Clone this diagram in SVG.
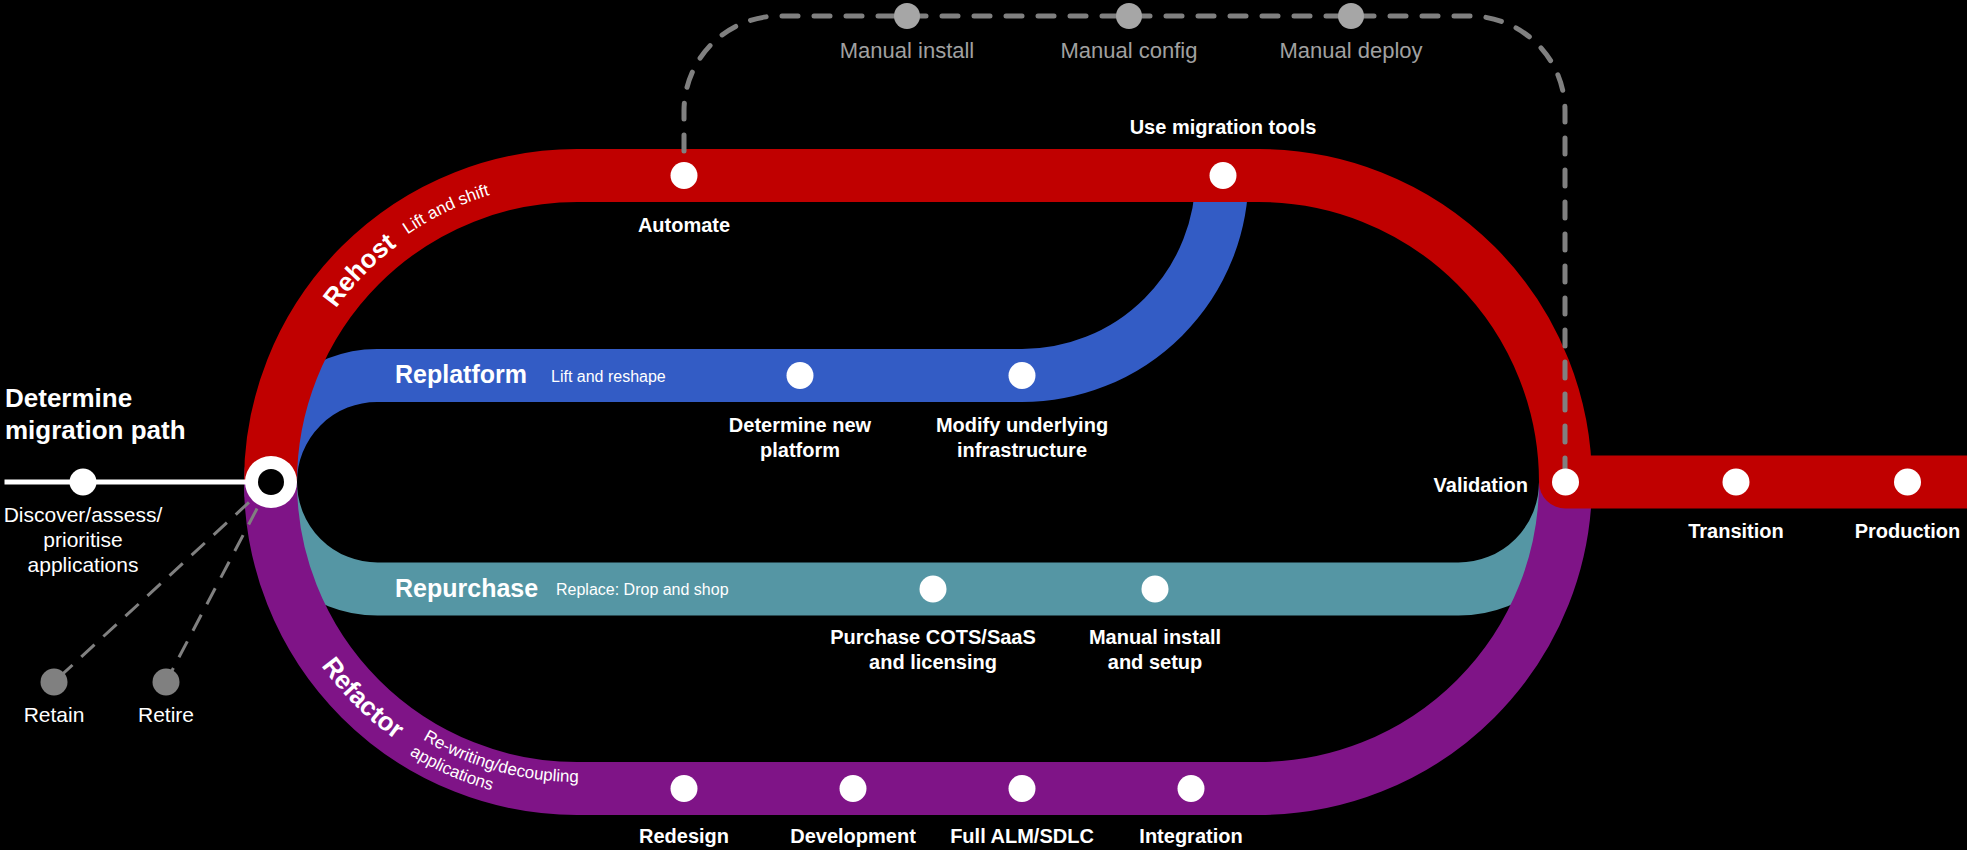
<svg xmlns="http://www.w3.org/2000/svg" width="1967" height="850" viewBox="0 0 1967 850">
<defs>
<style>
text{font-family:"Liberation Sans",Arial,sans-serif;fill:#fff}
.lbl{font-size:20px;font-weight:bold;text-anchor:middle}
.reg{font-size:21px;text-anchor:middle}
.gray{font-size:22px;text-anchor:middle;fill:#A0A0A0}
.title{font-size:26px;font-weight:bold}
.line{font-size:25px;font-weight:bold}
.sub{font-size:16px}
.arcname{font-size:26px;font-weight:bold}
.arcsub{font-size:17px}
.band{fill:none;stroke-width:53}
.dot{fill:#fff}
.gdot{fill:#808080}
.mdot{fill:#A6A6A6}
</style>
<path id="p-rehost" d="M280,482 A297,297 0 0 1 577,185 L700,185"/>
<path id="p-lift" d="M277,482 A300,300 0 0 1 577,182 L700,182"/>
<path id="p-refactor" d="M262,482 A315,315 0 0 0 577,797 L700,797"/>
<path id="p-rw1" d="M277,482 A300,300 0 0 0 577,782 L700,782"/>
<path id="p-rw2" d="M257,482 A320,320 0 0 0 577,802 L700,802"/>
</defs>
<rect x="0" y="0" width="1967" height="850" fill="#000"/>

<g id="connectors">
  <path id="line-replatform" class="band" stroke="#335CC5" d="M270.5,482 A106.5,106.5 0 0 1 377,375.5 L1022,375.5 A200,200 0 0 0 1222,175.5"/>
  <path id="line-repurchase" class="band" stroke="#5596A4" d="M270.5,482 A107,107 0 0 0 377.5,589 L1458.5,589 A107,107 0 0 0 1565.5,482"/>
  <path id="line-refactor" class="band" stroke="#7F1487" d="M270.5,482 A306.5,306.5 0 0 0 577,788.5 L1259,788.5 A306.5,306.5 0 0 0 1565.5,482"/>
  <path id="line-rehost" class="band" stroke="#C00000" d="M270.5,482 A306.5,306.5 0 0 1 577,175.5 L1259,175.5 A306.5,306.5 0 0 1 1565.5,482"/>
  <path id="line-exit" fill="none" stroke="#C00000" stroke-width="53" stroke-linecap="round" d="M1565.5,482 L2000,482"/>
  <path id="line-manual" fill="none" stroke="#808080" stroke-width="5" stroke-linecap="round" stroke-dasharray="16 16" d="M684,151 L684,111 A95,95 0 0 1 779,16 L1470,16 A95,95 0 0 1 1565,111 L1565,470"/>
  <path id="line-discover" fill="none" stroke="#fff" stroke-width="5" d="M4.5,482 L271,482"/>
  <path id="line-retain" fill="none" stroke="#808080" stroke-width="3" stroke-dasharray="18 12" d="M271,482 L54,682"/>
  <path id="line-retire" fill="none" stroke="#808080" stroke-width="3" stroke-dasharray="18 12" d="M271,482 L166,682"/>
</g>

<g id="line-labels">
  <text class="arcname"><textPath href="#p-rehost" startOffset="185">Rehost</textPath></text>
  <text class="arcsub"><textPath href="#p-lift" startOffset="291">Lift and shift</textPath></text>
  <text class="arcname"><textPath href="#p-refactor" startOffset="196">Refactor</textPath></text>
  <text class="arcsub"><textPath href="#p-rw1" startOffset="309">Re-writing/decoupling</textPath></text>
  <text class="arcsub"><textPath href="#p-rw2" startOffset="326">applications</textPath></text>
  <text class="line" x="395" y="383">Replatform</text>
  <text class="sub" x="551" y="382">Lift and reshape</text>
  <text class="line" x="395" y="597">Repurchase</text>
  <text class="sub" x="556" y="595">Replace: Drop and shop</text>
</g>

<g id="node-title"><text class="title" x="5" y="407">Determine</text><text class="title" x="5" y="439">migration path</text></g>
<g id="node-junction"><circle cx="271" cy="482" r="26" fill="#fff"/><circle cx="271" cy="482" r="13" fill="#000"/></g>
<g id="node-discover"><circle class="dot" cx="83" cy="482" r="13.5"/><text class="reg" x="83" y="522">Discover/assess/</text><text class="reg" x="83" y="547">prioritise</text><text class="reg" x="83" y="572">applications</text></g>
<g id="node-retain"><circle class="gdot" cx="54" cy="682" r="13.5"/><text class="reg" x="54" y="722">Retain</text></g>
<g id="node-retire"><circle class="gdot" cx="166" cy="682" r="13.5"/><text class="reg" x="166" y="722">Retire</text></g>

<g id="node-automate"><circle class="dot" cx="684" cy="175.5" r="13.5"/><text class="lbl" x="684" y="232">Automate</text></g>
<g id="node-migration-tools"><circle class="dot" cx="1223" cy="175.5" r="13.5"/><text class="lbl" x="1223" y="134">Use migration tools</text></g>
<g id="node-manual-install"><circle class="mdot" cx="907" cy="16" r="13"/><text class="gray" x="907" y="58">Manual install</text></g>
<g id="node-manual-config"><circle class="mdot" cx="1129" cy="16" r="13"/><text class="gray" x="1129" y="58">Manual config</text></g>
<g id="node-manual-deploy"><circle class="mdot" cx="1351" cy="16" r="13"/><text class="gray" x="1351" y="58">Manual deploy</text></g>

<g id="node-new-platform"><circle class="dot" cx="800" cy="375.5" r="13.5"/><text class="lbl" x="800" y="432">Determine new</text><text class="lbl" x="800" y="457">platform</text></g>
<g id="node-modify-infra"><circle class="dot" cx="1022" cy="375.5" r="13.5"/><text class="lbl" x="1022" y="432">Modify underlying</text><text class="lbl" x="1022" y="457">infrastructure</text></g>

<g id="node-purchase"><circle class="dot" cx="933" cy="589" r="13.5"/><text class="lbl" x="933" y="644">Purchase COTS/SaaS</text><text class="lbl" x="933" y="669">and licensing</text></g>
<g id="node-manual-setup"><circle class="dot" cx="1155" cy="589" r="13.5"/><text class="lbl" x="1155" y="644">Manual install</text><text class="lbl" x="1155" y="669">and setup</text></g>

<g id="node-redesign"><circle class="dot" cx="684" cy="788.5" r="13.5"/><text class="lbl" x="684" y="843">Redesign</text></g>
<g id="node-development"><circle class="dot" cx="853" cy="788.5" r="13.5"/><text class="lbl" x="853" y="843">Development</text></g>
<g id="node-alm"><circle class="dot" cx="1022" cy="788.5" r="13.5"/><text class="lbl" x="1022" y="843">Full ALM/SDLC</text></g>
<g id="node-integration"><circle class="dot" cx="1191" cy="788.5" r="13.5"/><text class="lbl" x="1191" y="843">Integration</text></g>

<g id="node-validation"><circle class="dot" cx="1565.5" cy="482" r="13.5"/><text class="lbl" x="1528" y="492" style="text-anchor:end">Validation</text></g>
<g id="node-transition"><circle class="dot" cx="1736" cy="482" r="13.5"/><text class="lbl" x="1736" y="538">Transition</text></g>
<g id="node-production"><circle class="dot" cx="1907.5" cy="482" r="13.5"/><text class="lbl" x="1907.5" y="538">Production</text></g>
</svg>
